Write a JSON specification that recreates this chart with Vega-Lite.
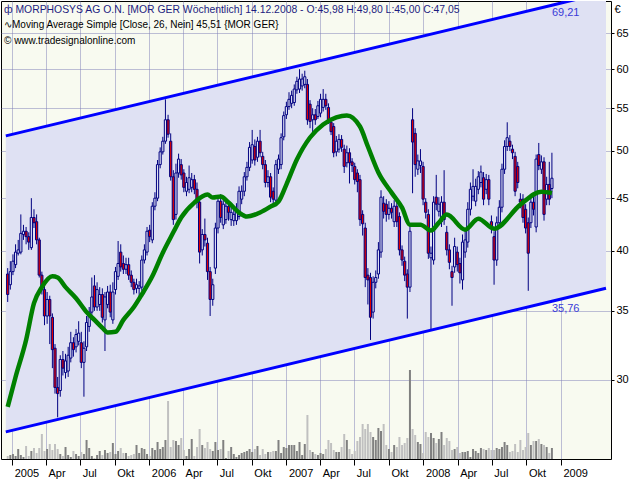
{
"$schema": "https://vega.github.io/schema/vega-lite/v6.json",
"autosize": {"type": "none"},
"width": 610, "height": 458,
"padding": {"left": 1, "top": 1, "right": 29, "bottom": 21},
"background": "#ffffff",
"view": {"fill": "#f8faf0", "stroke": "#000000", "strokeWidth": 1},
"config": {
  "font": "Liberation Sans",
  "axis": {"labelFont": "Liberation Sans", "labelFontSize": 10, "labelColor": "#000000", "tickColor": "#000000", "domain": false, "gridColor": "#8080b8", "gridOpacity": 0.5, "zindex": 1}
},
"title": {
  "text": "ф MORPHOSYS AG O.N. [MOR GER  Wöchentlich] 14.12.2008 - O:45,98 H:49,80 L:45,00 C:47,05",
  "subtitle": ["∿Moving Average Simple [Close, 26, Nein] 45,51 {MOR GER}", "© www.tradesignalonline.com"],
  "anchor": "start", "frame": "group", "orient": "top", "offset": -45, "baseline": "top",
  "font": "Liberation Sans", "fontSize": 10.4, "fontWeight": "normal", "color": "#1c1c80",
  "subtitleFont": "Liberation Sans", "subtitleFontSize": 10, "subtitleColor": "#000000",
  "subtitlePadding": 5, "subtitleLineHeight": 16, "dx": 3, "zindex": 2
},
"datasets": {
"ch": [
  {"d": "2004-12-15", "lo": 26.72, "hi": 51.71},
  {"d": "2008-12-08", "lo": 35.76, "hi": 69.21},
  {"d": "2009-05-01", "lo": 36.81, "hi": 71.24}
],
"lab": [
  {"d": "2008-12-08", "v": 69.21, "t": "69,21"},
  {"d": "2008-12-08", "v": 35.76, "t": "35,76"}
],
"ma": [
  {"d":"2004-12-20","ma":28.25},{"d":"2005-01-10","ma":30.2},{"d":"2005-02-07","ma":32.8},{"d":"2005-02-28","ma":35.6},
  {"d":"2005-03-21","ma":36.9},{"d":"2005-04-18","ma":37.8},{"d":"2005-05-02","ma":37.7},{"d":"2005-05-23","ma":36.9},
  {"d":"2005-06-20","ma":36.0},{"d":"2005-07-18","ma":34.9},{"d":"2005-08-08","ma":34.3},{"d":"2005-08-29","ma":33.7},
  {"d":"2005-09-12","ma":33.35},{"d":"2005-10-03","ma":33.4},{"d":"2005-10-24","ma":34.3},{"d":"2005-11-21","ma":35.3},
  {"d":"2005-12-12","ma":36.3},{"d":"2006-01-09","ma":37.8},{"d":"2006-02-06","ma":39.85},{"d":"2006-03-06","ma":41.7},
  {"d":"2006-03-27","ma":43.1},{"d":"2006-05-01","ma":44.56},{"d":"2006-06-05","ma":45.36},{"d":"2006-06-19","ma":45.06},
  {"d":"2006-07-10","ma":45.16},{"d":"2006-07-31","ma":44.56},{"d":"2006-08-28","ma":43.58},{"d":"2006-09-18","ma":43.19},
  {"d":"2006-10-23","ma":43.58},{"d":"2006-11-20","ma":44.16},{"d":"2006-12-11","ma":44.66},{"d":"2007-01-01","ma":46.39},
  {"d":"2007-01-29","ma":49.05},{"d":"2007-03-05","ma":51.52},{"d":"2007-04-09","ma":53.04},{"d":"2007-05-14","ma":53.88},
  {"d":"2007-06-11","ma":54.12},{"d":"2007-07-16","ma":52.8},{"d":"2007-08-06","ma":50.5},{"d":"2007-09-03","ma":47.65},
  {"d":"2007-10-08","ma":45.56},{"d":"2007-11-05","ma":44.06},{"d":"2007-11-26","ma":42.42},{"d":"2007-12-24","ma":42.42},
  {"d":"2008-01-21","ma":41.86},{"d":"2008-02-11","ma":42.61},{"d":"2008-03-03","ma":43.38},{"d":"2008-04-21","ma":41.95},
  {"d":"2008-05-26","ma":42.99},{"d":"2008-07-07","ma":42.04},{"d":"2008-09-15","ma":44.36},{"d":"2008-11-10","ma":45.66},
  {"d":"2008-12-08","ma":45.51}
],
"w": [
{"d":"2004-12-20","o":38.0,"h":38.5,"l":35.7,"c":36.3,"v":30},
{"d":"2004-12-27","o":37.1,"h":39.1,"l":36.7,"c":38.2,"v":40},
{"d":"2005-01-03","o":38.2,"h":39.7,"l":37.9,"c":39.1,"v":50},
{"d":"2005-01-10","o":38.8,"h":40.6,"l":38.5,"c":39.9,"v":30},
{"d":"2005-01-17","o":39.8,"h":41.0,"l":39.6,"c":40.1,"v":100},
{"d":"2005-01-24","o":39.9,"h":43.4,"l":39.7,"c":41.6,"v":40},
{"d":"2005-01-31","o":41.5,"h":42.4,"l":41.0,"c":41.8,"v":20},
{"d":"2005-02-07","o":41.8,"h":42.2,"l":40.6,"c":41.3,"v":130},
{"d":"2005-02-14","o":41.3,"h":41.7,"l":40.1,"c":40.8,"v":30},
{"d":"2005-02-21","o":40.3,"h":45.0,"l":40.1,"c":43.1,"v":80},
{"d":"2005-02-28","o":43.1,"h":43.9,"l":42.1,"c":42.6,"v":110},
{"d":"2005-03-07","o":42.7,"h":43.4,"l":40.6,"c":41.0,"v":60},
{"d":"2005-03-14","o":41.0,"h":41.2,"l":37.7,"c":37.9,"v":110},
{"d":"2005-03-21","o":37.9,"h":38.2,"l":36.3,"c":36.7,"v":250},
{"d":"2005-03-28","o":36.7,"h":37.0,"l":33.9,"c":34.6,"v":80},
{"d":"2005-04-04","o":34.6,"h":36.5,"l":34.0,"c":35.9,"v":100},
{"d":"2005-04-11","o":35.9,"h":36.2,"l":32.5,"c":34.6,"v":150},
{"d":"2005-04-18","o":34.5,"h":34.8,"l":30.8,"c":32.1,"v":90},
{"d":"2005-04-25","o":32.2,"h":32.5,"l":29.1,"c":29.5,"v":150},
{"d":"2005-05-02","o":29.5,"h":30.2,"l":27.6,"c":29.1,"v":100},
{"d":"2005-05-09","o":29.3,"h":31.7,"l":28.9,"c":31.4,"v":50},
{"d":"2005-05-16","o":31.4,"h":32.0,"l":30.3,"c":30.8,"v":30},
{"d":"2005-05-23","o":30.5,"h":31.8,"l":30.1,"c":31.3,"v":120},
{"d":"2005-05-30","o":30.6,"h":32.3,"l":30.2,"c":31.7,"v":40},
{"d":"2005-06-06","o":31.5,"h":33.4,"l":31.2,"c":32.6,"v":20},
{"d":"2005-06-13","o":32.6,"h":33.0,"l":31.6,"c":32.1,"v":80},
{"d":"2005-06-20","o":32.3,"h":33.6,"l":31.9,"c":33.2,"v":50},
{"d":"2005-06-27","o":32.7,"h":34.2,"l":32.4,"c":33.3,"v":30},
{"d":"2005-07-04","o":32.6,"h":33.4,"l":30.8,"c":31.2,"v":70},
{"d":"2005-07-11","o":31.2,"h":32.7,"l":28.9,"c":32.2,"v":50},
{"d":"2005-07-18","o":32.3,"h":34.6,"l":32.0,"c":34.1,"v":190},
{"d":"2005-07-25","o":33.8,"h":35.3,"l":33.4,"c":34.9,"v":110},
{"d":"2005-08-01","o":34.9,"h":37.7,"l":34.6,"c":36.1,"v":30},
{"d":"2005-08-08","o":37.0,"h":37.9,"l":35.0,"c":35.3,"v":10},
{"d":"2005-08-15","o":35.3,"h":37.3,"l":35.0,"c":36.7,"v":40},
{"d":"2005-08-22","o":35.5,"h":36.9,"l":35.0,"c":36.3,"v":80},
{"d":"2005-08-29","o":36.3,"h":36.8,"l":34.1,"c":34.5,"v":40},
{"d":"2005-09-05","o":34.3,"h":36.5,"l":32.0,"c":36.1,"v":90},
{"d":"2005-09-12","o":35.5,"h":37.0,"l":35.2,"c":36.5,"v":60},
{"d":"2005-09-19","o":36.5,"h":37.1,"l":34.5,"c":34.9,"v":70},
{"d":"2005-09-26","o":34.3,"h":37.3,"l":34.0,"c":36.5,"v":160},
{"d":"2005-10-03","o":36.7,"h":38.6,"l":36.3,"c":38.2,"v":50},
{"d":"2005-10-10","o":37.8,"h":40.9,"l":37.5,"c":38.9,"v":80},
{"d":"2005-10-17","o":39.9,"h":40.6,"l":38.2,"c":38.6,"v":110},
{"d":"2005-10-24","o":38.9,"h":39.6,"l":38.0,"c":38.4,"v":60},
{"d":"2005-10-31","o":38.4,"h":39.4,"l":38.0,"c":38.8,"v":60},
{"d":"2005-11-07","o":38.8,"h":39.4,"l":37.5,"c":37.9,"v":30},
{"d":"2005-11-14","o":37.9,"h":38.3,"l":36.9,"c":37.3,"v":40},
{"d":"2005-11-21","o":37.3,"h":37.6,"l":36.3,"c":36.7,"v":50},
{"d":"2005-11-28","o":36.8,"h":37.6,"l":36.4,"c":37.1,"v":140},
{"d":"2005-12-05","o":36.8,"h":37.4,"l":35.8,"c":37.0,"v":60},
{"d":"2005-12-12","o":36.9,"h":39.6,"l":36.6,"c":39.2,"v":110},
{"d":"2005-12-19","o":39.2,"h":40.6,"l":38.9,"c":40.1,"v":100},
{"d":"2005-12-26","o":39.9,"h":42.2,"l":39.6,"c":41.8,"v":50},
{"d":"2006-01-02","o":41.9,"h":42.4,"l":40.8,"c":41.3,"v":30},
{"d":"2006-01-09","o":41.0,"h":44.6,"l":40.7,"c":44.2,"v":110},
{"d":"2006-01-16","o":44.2,"h":45.6,"l":43.8,"c":45.0,"v":90},
{"d":"2006-01-23","o":45.0,"h":49.0,"l":44.7,"c":48.5,"v":170},
{"d":"2006-01-30","o":48.5,"h":50.4,"l":48.1,"c":49.9,"v":100},
{"d":"2006-02-06","o":49.9,"h":51.6,"l":49.6,"c":51.1,"v":120},
{"d":"2006-02-13","o":51.1,"h":56.1,"l":50.8,"c":53.6,"v":190},
{"d":"2006-02-20","o":53.6,"h":54.2,"l":51.5,"c":51.9,"v":580},
{"d":"2006-02-27","o":51.1,"h":52.0,"l":46.8,"c":47.2,"v":120},
{"d":"2006-03-06","o":47.2,"h":47.9,"l":42.4,"c":42.9,"v":190},
{"d":"2006-03-13","o":43.4,"h":48.6,"l":42.9,"c":47.6,"v":180},
{"d":"2006-03-20","o":47.6,"h":49.7,"l":47.1,"c":49.1,"v":140},
{"d":"2006-03-27","o":48.5,"h":49.1,"l":46.9,"c":47.4,"v":210},
{"d":"2006-04-03","o":47.6,"h":48.0,"l":45.6,"c":46.1,"v":90},
{"d":"2006-04-10","o":45.7,"h":47.2,"l":45.2,"c":46.6,"v":30},
{"d":"2006-04-17","o":45.9,"h":48.4,"l":45.5,"c":47.1,"v":100},
{"d":"2006-04-24","o":46.1,"h":47.6,"l":45.6,"c":46.9,"v":200},
{"d":"2006-05-01","o":46.9,"h":47.4,"l":45.4,"c":45.9,"v":30},
{"d":"2006-05-08","o":45.9,"h":46.6,"l":44.0,"c":44.6,"v":120},
{"d":"2006-05-15","o":44.6,"h":45.2,"l":38.9,"c":39.9,"v":300},
{"d":"2006-05-22","o":40.1,"h":42.0,"l":39.6,"c":41.5,"v":140},
{"d":"2006-05-29","o":41.5,"h":43.0,"l":40.4,"c":41.0,"v":110},
{"d":"2006-06-05","o":40.7,"h":41.2,"l":37.5,"c":38.2,"v":170},
{"d":"2006-06-12","o":38.2,"h":38.6,"l":34.6,"c":35.9,"v":100},
{"d":"2006-06-19","o":35.9,"h":37.6,"l":35.4,"c":37.1,"v":80},
{"d":"2006-06-26","o":38.5,"h":42.6,"l":38.0,"c":42.1,"v":170},
{"d":"2006-07-03","o":42.1,"h":45.3,"l":41.6,"c":44.7,"v":90},
{"d":"2006-07-10","o":44.7,"h":45.4,"l":42.6,"c":43.1,"v":100},
{"d":"2006-07-17","o":42.4,"h":44.9,"l":42.0,"c":44.4,"v":190},
{"d":"2006-07-24","o":42.9,"h":45.0,"l":42.5,"c":44.2,"v":10},
{"d":"2006-07-31","o":44.2,"h":44.8,"l":42.8,"c":43.6,"v":80},
{"d":"2006-08-07","o":42.9,"h":44.1,"l":42.3,"c":43.6,"v":120},
{"d":"2006-08-14","o":42.8,"h":44.0,"l":42.3,"c":43.4,"v":50},
{"d":"2006-08-21","o":42.8,"h":44.5,"l":42.4,"c":43.7,"v":20},
{"d":"2006-08-28","o":43.2,"h":46.2,"l":42.9,"c":45.7,"v":40},
{"d":"2006-09-04","o":44.9,"h":46.3,"l":44.4,"c":45.7,"v":60},
{"d":"2006-09-11","o":45.7,"h":47.7,"l":45.2,"c":47.2,"v":70},
{"d":"2006-09-18","o":47.2,"h":48.8,"l":46.8,"c":48.2,"v":80},
{"d":"2006-09-25","o":48.2,"h":51.0,"l":47.8,"c":50.4,"v":100},
{"d":"2006-10-02","o":49.0,"h":52.4,"l":48.6,"c":50.7,"v":70},
{"d":"2006-10-09","o":50.5,"h":51.3,"l":48.4,"c":49.0,"v":100},
{"d":"2006-10-16","o":49.3,"h":51.6,"l":48.8,"c":51.1,"v":130},
{"d":"2006-10-23","o":51.1,"h":52.4,"l":49.3,"c":49.8,"v":40},
{"d":"2006-10-30","o":49.4,"h":49.9,"l":48.0,"c":48.5,"v":100},
{"d":"2006-11-06","o":48.5,"h":49.0,"l":46.1,"c":46.6,"v":50},
{"d":"2006-11-13","o":46.6,"h":47.9,"l":46.1,"c":47.2,"v":70},
{"d":"2006-11-20","o":47.2,"h":47.6,"l":44.6,"c":45.1,"v":70},
{"d":"2006-11-27","o":45.7,"h":46.1,"l":44.2,"c":44.9,"v":80},
{"d":"2006-12-04","o":44.8,"h":49.0,"l":44.2,"c":48.5,"v":80},
{"d":"2006-12-11","o":48.0,"h":49.6,"l":47.5,"c":49.1,"v":190},
{"d":"2006-12-18","o":48.5,"h":52.0,"l":48.0,"c":51.5,"v":60},
{"d":"2006-12-25","o":51.6,"h":54.6,"l":51.2,"c":54.1,"v":120},
{"d":"2007-01-01","o":54.2,"h":55.8,"l":53.7,"c":55.2,"v":110},
{"d":"2007-01-08","o":55.2,"h":57.0,"l":54.8,"c":56.1,"v":140},
{"d":"2007-01-15","o":55.6,"h":57.2,"l":55.0,"c":56.6,"v":140},
{"d":"2007-01-22","o":55.7,"h":58.0,"l":55.3,"c":57.4,"v":140},
{"d":"2007-01-29","o":57.3,"h":59.0,"l":56.8,"c":58.4,"v":80},
{"d":"2007-02-05","o":57.4,"h":60.0,"l":56.9,"c":58.7,"v":170},
{"d":"2007-02-12","o":57.8,"h":59.4,"l":57.2,"c":58.7,"v":40},
{"d":"2007-02-19","o":58.0,"h":59.8,"l":57.5,"c":59.0,"v":150},
{"d":"2007-02-26","o":58.0,"h":58.7,"l":53.0,"c":53.6,"v":440},
{"d":"2007-03-05","o":55.5,"h":56.0,"l":52.6,"c":53.4,"v":90},
{"d":"2007-03-12","o":53.6,"h":55.0,"l":52.0,"c":54.2,"v":70},
{"d":"2007-03-19","o":54.2,"h":54.9,"l":53.0,"c":53.6,"v":50},
{"d":"2007-03-26","o":54.0,"h":55.9,"l":53.7,"c":55.3,"v":40},
{"d":"2007-04-02","o":54.4,"h":56.8,"l":53.9,"c":56.1,"v":60},
{"d":"2007-04-09","o":55.1,"h":57.4,"l":54.6,"c":56.1,"v":50},
{"d":"2007-04-16","o":56.1,"h":56.8,"l":54.8,"c":55.3,"v":100},
{"d":"2007-04-23","o":55.1,"h":55.6,"l":53.1,"c":53.6,"v":190},
{"d":"2007-04-30","o":53.3,"h":53.8,"l":51.8,"c":52.2,"v":160},
{"d":"2007-05-07","o":52.8,"h":53.2,"l":49.3,"c":49.8,"v":90},
{"d":"2007-05-14","o":49.9,"h":51.7,"l":49.4,"c":51.1,"v":70},
{"d":"2007-05-21","o":50.2,"h":51.9,"l":49.8,"c":51.3,"v":70},
{"d":"2007-05-28","o":51.3,"h":51.8,"l":49.9,"c":50.4,"v":120},
{"d":"2007-06-04","o":50.2,"h":50.7,"l":47.6,"c":48.3,"v":250},
{"d":"2007-06-11","o":48.7,"h":50.6,"l":48.2,"c":49.8,"v":190},
{"d":"2007-06-18","o":49.8,"h":50.3,"l":46.5,"c":48.7,"v":100},
{"d":"2007-06-25","o":48.8,"h":49.2,"l":47.7,"c":48.4,"v":50},
{"d":"2007-07-02","o":48.3,"h":48.7,"l":46.4,"c":46.9,"v":80},
{"d":"2007-07-09","o":47.6,"h":48.0,"l":45.6,"c":46.7,"v":180},
{"d":"2007-07-16","o":46.9,"h":47.4,"l":42.3,"c":42.9,"v":220},
{"d":"2007-07-23","o":43.4,"h":43.8,"l":41.4,"c":42.5,"v":350},
{"d":"2007-07-30","o":42.1,"h":42.6,"l":36.9,"c":37.7,"v":300},
{"d":"2007-08-06","o":37.9,"h":38.5,"l":35.5,"c":37.5,"v":350},
{"d":"2007-08-13","o":37.7,"h":38.1,"l":32.8,"c":34.5,"v":270},
{"d":"2007-08-20","o":34.9,"h":37.8,"l":34.4,"c":37.3,"v":220},
{"d":"2007-08-27","o":37.3,"h":38.3,"l":36.8,"c":37.7,"v":190},
{"d":"2007-09-03","o":38.0,"h":40.8,"l":37.6,"c":40.1,"v":310},
{"d":"2007-09-10","o":39.9,"h":45.8,"l":39.4,"c":45.1,"v":280},
{"d":"2007-09-17","o":44.5,"h":45.2,"l":43.0,"c":43.7,"v":350},
{"d":"2007-09-24","o":44.4,"h":44.9,"l":42.7,"c":43.4,"v":140},
{"d":"2007-10-01","o":43.4,"h":44.7,"l":42.9,"c":44.0,"v":100},
{"d":"2007-10-08","o":44.0,"h":44.5,"l":43.0,"c":43.6,"v":70},
{"d":"2007-10-15","o":42.7,"h":44.8,"l":42.2,"c":44.2,"v":140},
{"d":"2007-10-22","o":44.2,"h":44.9,"l":42.2,"c":42.7,"v":120},
{"d":"2007-10-29","o":43.2,"h":43.6,"l":39.6,"c":40.1,"v":220},
{"d":"2007-11-05","o":40.1,"h":40.5,"l":38.7,"c":39.2,"v":140},
{"d":"2007-11-12","o":39.1,"h":39.5,"l":37.4,"c":37.9,"v":160},
{"d":"2007-11-19","o":38.0,"h":38.4,"l":34.4,"c":36.9,"v":210},
{"d":"2007-11-26","o":36.9,"h":42.4,"l":36.5,"c":41.8,"v":890},
{"d":"2007-12-03","o":53.6,"h":55.0,"l":45.5,"c":51.0,"v":300},
{"d":"2007-12-10","o":52.0,"h":52.6,"l":47.2,"c":48.5,"v":240},
{"d":"2007-12-17","o":48.0,"h":49.6,"l":47.4,"c":48.9,"v":170},
{"d":"2007-12-24","o":48.4,"h":50.2,"l":47.6,"c":48.9,"v":150},
{"d":"2007-12-31","o":48.3,"h":48.8,"l":44.3,"c":44.9,"v":60},
{"d":"2008-01-07","o":44.6,"h":45.0,"l":43.0,"c":43.6,"v":270},
{"d":"2008-01-14","o":43.4,"h":43.9,"l":39.3,"c":39.8,"v":220},
{"d":"2008-01-21","o":39.4,"h":40.4,"l":33.5,"c":39.8,"v":260},
{"d":"2008-01-28","o":39.2,"h":45.2,"l":38.8,"c":44.6,"v":210},
{"d":"2008-02-04","o":45.1,"h":47.4,"l":43.8,"c":44.4,"v":160},
{"d":"2008-02-11","o":43.7,"h":45.1,"l":43.2,"c":44.4,"v":200},
{"d":"2008-02-18","o":42.7,"h":45.2,"l":42.2,"c":44.6,"v":270},
{"d":"2008-02-25","o":44.6,"h":47.9,"l":42.4,"c":42.9,"v":140},
{"d":"2008-03-03","o":41.7,"h":42.3,"l":39.6,"c":40.1,"v":210},
{"d":"2008-03-10","o":40.1,"h":40.6,"l":38.4,"c":39.0,"v":180},
{"d":"2008-03-17","o":38.2,"h":38.7,"l":35.4,"c":37.7,"v":90},
{"d":"2008-03-24","o":38.6,"h":41.2,"l":38.1,"c":40.4,"v":100},
{"d":"2008-03-31","o":39.9,"h":40.4,"l":38.2,"c":38.8,"v":120},
{"d":"2008-04-07","o":38.9,"h":39.4,"l":37.2,"c":38.1,"v":60},
{"d":"2008-04-14","o":37.5,"h":41.5,"l":36.7,"c":40.8,"v":70},
{"d":"2008-04-21","o":39.9,"h":41.8,"l":39.4,"c":41.0,"v":70},
{"d":"2008-04-28","o":40.8,"h":44.6,"l":40.3,"c":43.9,"v":80},
{"d":"2008-05-05","o":43.9,"h":46.6,"l":43.3,"c":45.9,"v":20},
{"d":"2008-05-12","o":45.2,"h":48.0,"l":44.7,"c":46.2,"v":100},
{"d":"2008-05-19","o":44.7,"h":47.0,"l":44.2,"c":46.2,"v":80},
{"d":"2008-05-26","o":45.9,"h":47.8,"l":45.4,"c":47.2,"v":60},
{"d":"2008-06-02","o":46.6,"h":48.4,"l":46.1,"c":47.7,"v":110},
{"d":"2008-06-09","o":47.1,"h":47.7,"l":44.3,"c":44.9,"v":100},
{"d":"2008-06-16","o":45.9,"h":47.5,"l":45.4,"c":46.9,"v":90},
{"d":"2008-06-23","o":46.9,"h":47.4,"l":44.3,"c":44.9,"v":110},
{"d":"2008-06-30","o":42.7,"h":43.3,"l":41.6,"c":42.1,"v":90},
{"d":"2008-07-07","o":41.3,"h":41.8,"l":37.1,"c":39.2,"v":90},
{"d":"2008-07-14","o":39.2,"h":43.2,"l":38.7,"c":42.6,"v":110},
{"d":"2008-07-21","o":42.6,"h":44.8,"l":42.1,"c":44.1,"v":100},
{"d":"2008-07-28","o":44.1,"h":48.6,"l":43.6,"c":48.0,"v":120},
{"d":"2008-08-04","o":48.0,"h":51.2,"l":47.5,"c":50.5,"v":170},
{"d":"2008-08-11","o":50.5,"h":53.3,"l":50.0,"c":51.5,"v":140},
{"d":"2008-08-18","o":51.1,"h":51.8,"l":50.0,"c":50.5,"v":70},
{"d":"2008-08-25","o":50.2,"h":50.7,"l":49.1,"c":49.8,"v":80},
{"d":"2008-09-01","o":49.4,"h":49.9,"l":45.2,"c":45.7,"v":150},
{"d":"2008-09-08","o":48.3,"h":48.8,"l":46.0,"c":46.6,"v":70},
{"d":"2008-09-15","o":44.9,"h":45.5,"l":44.0,"c":44.6,"v":190},
{"d":"2008-09-22","o":44.9,"h":45.4,"l":42.6,"c":43.1,"v":90},
{"d":"2008-09-29","o":43.9,"h":44.4,"l":41.6,"c":42.1,"v":120},
{"d":"2008-10-06","o":42.6,"h":43.1,"l":36.6,"c":39.8,"v":260},
{"d":"2008-10-13","o":42.6,"h":45.2,"l":42.1,"c":44.6,"v":140},
{"d":"2008-10-20","o":44.6,"h":45.2,"l":43.3,"c":43.9,"v":180},
{"d":"2008-10-27","o":42.2,"h":49.6,"l":41.7,"c":49.1,"v":180},
{"d":"2008-11-03","o":49.6,"h":50.9,"l":47.9,"c":48.4,"v":200},
{"d":"2008-11-10","o":48.0,"h":49.5,"l":47.5,"c":48.8,"v":150},
{"d":"2008-11-17","o":48.8,"h":49.3,"l":42.8,"c":43.4,"v":140},
{"d":"2008-11-24","o":44.9,"h":47.2,"l":44.3,"c":46.4,"v":120},
{"d":"2008-12-01","o":46.4,"h":48.8,"l":44.3,"c":44.9,"v":60},
{"d":"2008-12-08","o":45.98,"h":49.8,"l":45.0,"c":47.05,"v":110}
]
},
"encoding": {
  "x": {"field": "d", "type": "temporal",
    "scale": {"type": "utc", "domain": [1103112000000, 1241136000000]},
    "axis": {"title": null, "grid": true, "orient": "bottom", "tickSize": 6, "labelPadding": 2, "labelAlign": "left", "labelBaseline": "top", "labelOffset": 2, "labelFontSize": 11, "labelOverlap": false, "labelBound": false,
      "values": [1104537600000, 1112313600000, 1120176000000, 1128124800000, 1136073600000, 1143849600000, 1151712000000, 1159660800000, 1167609600000, 1175385600000, 1183248000000, 1191196800000, 1199145600000, 1207008000000, 1214870400000, 1222819200000, 1230768000000],
      "labelExpr": "utcmonth(datum.value) == 0 ? utcFormat(datum.value, '%Y') : utcmonth(datum.value) == 3 ? 'Apr' : utcmonth(datum.value) == 6 ? 'Jul' : 'Okt'"}}
},
"layer": [
  {
    "data": {"name": "ch"},
    "mark": {"type": "area", "fill": "#dfe1f3", "clip": true},
    "encoding": {
      "y": {"field": "lo", "type": "quantitative", "scale": {"type": "log", "domain": [25.15, 69.86], "nice": false, "zero": false}, "axis": null},
      "y2": {"field": "hi"}
    }
  },
  {
    "data": {"name": "w"},
    "mark": {"type": "bar", "width": 2},
    "encoding": {
      "y": {"field": "v", "type": "quantitative", "scale": {"domain": [0, 4580], "nice": false}, "axis": null},
      "color": {"condition": {"test": "datum.c < datum.o", "value": "#c0c0c0"}, "value": "#808080"}
    }
  },
  {
    "layer": [
      {
        "data": {"name": "w"},
        "mark": {"type": "rule", "color": "#000080", "strokeWidth": 1, "clip": true},
        "encoding": {
          "y": {"field": "l", "type": "quantitative", "scale": {"type": "log", "domain": [25.15, 69.86], "nice": false, "zero": false},
            "axis": {"orient": "right", "title": "€", "titleAngle": 0, "titleAlign": "left", "titleBaseline": "top", "titleX": 3, "titleY": 2, "titleFontWeight": "normal", "titleFontSize": 11, "titleFont": "Liberation Sans", "titleColor": "#000000",
              "values": [30, 35, 40, 45, 50, 55, 60, 65], "tickSize": 3, "labelPadding": 2, "labelFontSize": 11, "grid": true}},
          "y2": {"field": "h"}
        }
      },
      {
        "data": {"name": "w"},
        "mark": {"type": "bar", "width": 2.2, "stroke": "#000080", "strokeWidth": 1, "clip": true},
        "encoding": {
          "y": {"field": "o", "type": "quantitative"},
          "y2": {"field": "c"},
          "fill": {"condition": {"test": "datum.c < datum.o", "value": "#e00000"}, "value": "#dfe1f3"}
        }
      },
      {
        "data": {"name": "ma"},
        "mark": {"type": "line", "color": "#008000", "strokeWidth": 4.5, "interpolate": "monotone", "clip": true},
        "encoding": {
          "y": {"field": "ma", "type": "quantitative"}
        }
      },
      {
        "data": {"name": "ch"},
        "mark": {"type": "line", "color": "#0000ff", "strokeWidth": 3, "clip": true},
        "encoding": {
          "y": {"field": "lo", "type": "quantitative"}
        }
      },
      {
        "data": {"name": "ch"},
        "mark": {"type": "line", "color": "#0000ff", "strokeWidth": 3, "clip": true},
        "encoding": {
          "y": {"field": "hi", "type": "quantitative"}
        }
      },
      {
        "data": {"name": "lab"},
        "mark": {"type": "text", "align": "left", "baseline": "top", "dy": 2, "color": "#3a3ad8", "fontSize": 11, "font": "Liberation Sans"},
        "encoding": {
          "y": {"field": "v", "type": "quantitative"},
          "text": {"field": "t"}
        }
      }
    ]
  }
],
"resolve": {"scale": {"y": "independent"}}
}
